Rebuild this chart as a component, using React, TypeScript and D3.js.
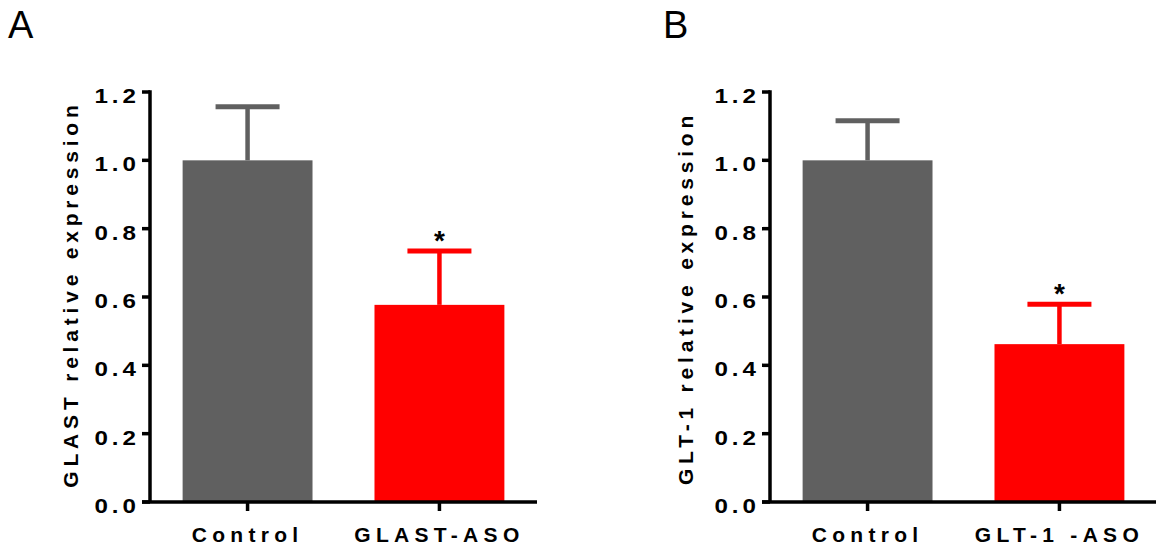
import React from "react";
import * as d3 from "d3";

const panelLabels = ["A", "B"];
const categoriesA = ["Control", "GLAST-ASO"];
const categoriesB = ["Control", "GLT-1 -ASO"];
const meansA = [1.0, 0.577];
const errorsA = [0.157, 0.158];
const meansB = [1.0, 0.462];
const errorsB = [0.116, 0.117];
const significantA = [false, true];
const significantB = [false, true];
const yTitles = ["GLAST relative expression", "GLT-1 relative expression"];
const yTicks = [0, 0.2, 0.4, 0.6, 0.8, 1.0, 1.2];
const barColors = ["#606060", "#ff0000"];

const FONT = "'Liberation Sans', Arial, sans-serif";

type PanelProps = {
  label: string;
  categories: string[];
  means: number[];
  errors: number[];
  sig: boolean[];
  title: string;
  axisX: number;
  axisEnd: number;
  titleX: number;
  titleY: number;
  labelX: number;
};

function Panel(p: PanelProps) {
  const y = d3.scaleLinear().domain([0, 1.2]).range([502, 92]);
  const x = d3
    .scaleBand<string>()
    .domain(p.categories)
    .range([p.axisX, p.axisEnd])
    .paddingInner(0.323)
    .paddingOuter(0.17);
  const bw = x.bandwidth();
  const tickLen = 8;
  const axisW = 3.5;
  const tickLs = 3.5;
  const sx = 1.15;
  return (
    <g>
      <text x={p.labelX} y={38} fontFamily={FONT} fontSize={38} fill="#000">
        {p.label}
      </text>
      {p.categories.map((c, i) => {
        const cx = (x(c) as number) + bw / 2;
        const top = y(p.means[i]);
        const capY = y(p.means[i] + p.errors[i]);
        const col = barColors[i];
        return (
          <g key={c}>
            <line x1={cx} x2={cx} y1={top} y2={capY} stroke={col} strokeWidth={4.5} />
            <line x1={cx - 32} x2={cx + 32} y1={capY} y2={capY} stroke={col} strokeWidth={5} />
            <rect x={x(c) as number} y={top} width={bw} height={y(0) - top} fill={col} />
            {p.sig[i] && (
              <text
                x={cx}
                y={capY - 1}
                textAnchor="middle"
                fontFamily={FONT}
                fontWeight="bold"
                fontSize={28}
                fill="#000"
              >
                *
              </text>
            )}
          </g>
        );
      })}
      {/* y axis */}
      <line x1={p.axisX} x2={p.axisX} y1={y(1.2) - axisW / 2} y2={y(0)} stroke="#000" strokeWidth={axisW} />
      {yTicks.map((t) => (
        <g key={t}>
          <line x1={p.axisX - tickLen} x2={p.axisX} y1={y(t)} y2={y(t)} stroke="#000" strokeWidth={axisW} />
          <text
            transform={`translate(${p.axisX - 14 + tickLs * sx},${y(t) + 11}) scale(${sx},1)`}
            textAnchor="end"
            fontFamily={FONT}
            fontWeight="bold"
            fontSize={21}
            letterSpacing={tickLs}
            fill="#000"
          >
            {t.toFixed(1)}
          </text>
        </g>
      ))}
      {/* x axis */}
      <line x1={p.axisX - tickLen} x2={p.axisEnd} y1={y(0)} y2={y(0)} stroke="#000" strokeWidth={axisW} />
      {p.categories.map((c) => {
        const cx = (x(c) as number) + bw / 2;
        return (
          <g key={"t" + c}>
            <line x1={cx} x2={cx} y1={y(0)} y2={y(0) + tickLen + 1} stroke="#000" strokeWidth={axisW} />
            <text
              x={cx}
              y={542}
              textAnchor="middle"
              fontFamily={FONT}
              fontWeight="bold"
              fontSize={21}
              letterSpacing={5.3}
              fill="#000"
            >
              {c}
            </text>
          </g>
        );
      })}
      <text
        transform={`translate(${p.titleX},${p.titleY}) rotate(-90)`}
        textAnchor="middle"
        fontFamily={FONT}
        fontWeight="bold"
        fontSize={21}
        letterSpacing={4.8}
        fill="#000"
      >
        {p.title}
      </text>
    </g>
  );
}

export default function App() {
  return (
    <svg
      width={1156}
      height={550}
      style={{ position: "absolute", left: 0, top: 0, background: "#fff" }}
    >
      <rect width={1156} height={550} fill="#fff" />
      <Panel
        label={panelLabels[0]}
        categories={categoriesA}
        means={meansA}
        errors={errorsA}
        sig={significantA}
        title={yTitles[0]}
        axisX={150}
        axisEnd={537}
        titleX={78}
        titleY={294}
        labelX={8}
      />
      <Panel
        label={panelLabels[1]}
        categories={categoriesB}
        means={meansB}
        errors={errorsB}
        sig={significantB}
        title={yTitles[1]}
        axisX={770}
        axisEnd={1157}
        titleX={693}
        titleY={298}
        labelX={663}
      />
    </svg>
  );
}
